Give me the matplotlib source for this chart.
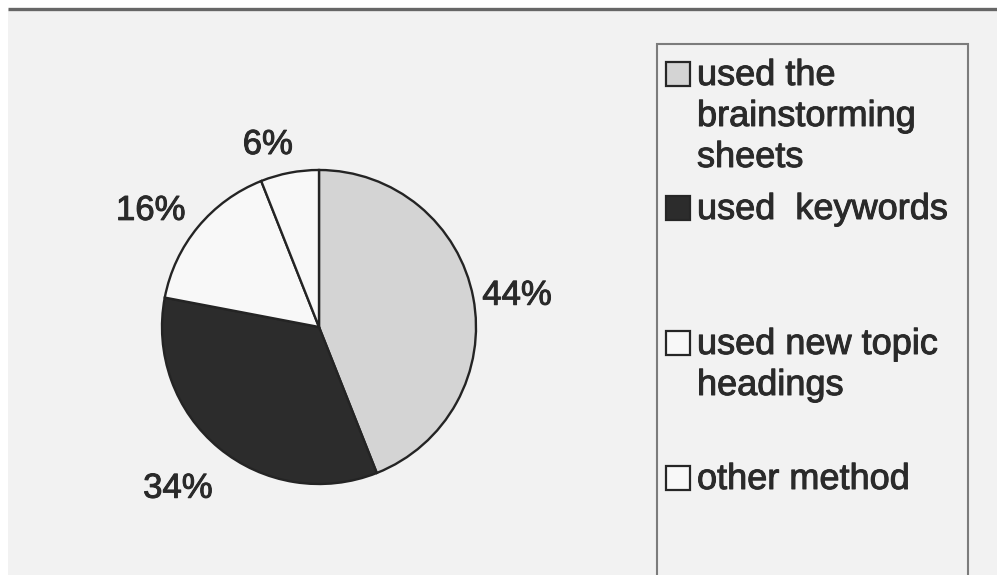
import numpy as np
import matplotlib.pyplot as plt
import matplotlib.patheffects as pe
from matplotlib.patches import Rectangle

plt.rcParams['font.family'] = ['Liberation Sans', 'DejaVu Sans']

# data
shares = [44, 34, 16, 6]
methods = ['used the\nbrainstorming\nsheets', 'used  keywords',
           'used new topic\nheadings', 'other method']
colors = ['#d4d4d4', '#2c2c2c', '#f8f8f8', '#f8f8f8']

W, H = 997, 575
fig = plt.figure(figsize=(W / 100, H / 100), dpi=100, facecolor='white')
ax = fig.add_axes([0, 0, 1, 1])

# paper background + dark scan edge at the top
ax.add_patch(Rectangle((8, 0), W - 8, H - 9, facecolor='#f2f2f2', edgecolor='none', zorder=0))
ax.plot([8, W], [H - 8.5, H - 8.5], color='#666666', lw=2.4, solid_capstyle='butt', zorder=1)

# scanned text looks a little heavier than plain Arial
ink = [pe.withStroke(linewidth=0.7, foreground='#2a2a2a')]

cx, cy, r = 319, H - 327, 157
wedges, texts, autotexts = ax.pie(
    shares, colors=colors, startangle=90, counterclock=False,
    center=(cx, cy), radius=r, autopct='%.0f%%', pctdistance=1.3,
    wedgeprops=dict(edgecolor='#242424', linewidth=1.7),
    textprops=dict(fontsize=25, color='#2a2a2a', path_effects=ink))

# nudge labels the way excel placed them (pixels)
nudges = [(-2.5, -6.5), (-11, -4), (-11, -13.5), (-13, -18)]
for t, (dx, dy) in zip(autotexts, nudges):
    x, y = t.get_position()
    t.set_position((x + dx, y + dy))

ax.set_xlim(0, W)
ax.set_ylim(0, H)
ax.axis('off')

# legend box drawn by hand (it runs off the bottom of the scan)
ax.add_patch(Rectangle((657, -10), 968 - 657, H - 44 + 10, fill=False,
                       edgecolor='#7c7c7c', lw=1.5, zorder=2))
baselines = [85, 219, 354, 489]
for lab, col, b in zip(methods, colors, baselines):
    ax.add_patch(Rectangle((666, H - b - 1), 24, 24, facecolor=col,
                           edgecolor='#262626', lw=1.6, zorder=3))
    for j, line in enumerate(lab.split('\n')):
        ax.text(697, H - (b + 41 * j), line, fontsize=26, color='#2a2a2a',
                va='baseline', ha='left', path_effects=ink)

fig.savefig('out.png', dpi=100)
